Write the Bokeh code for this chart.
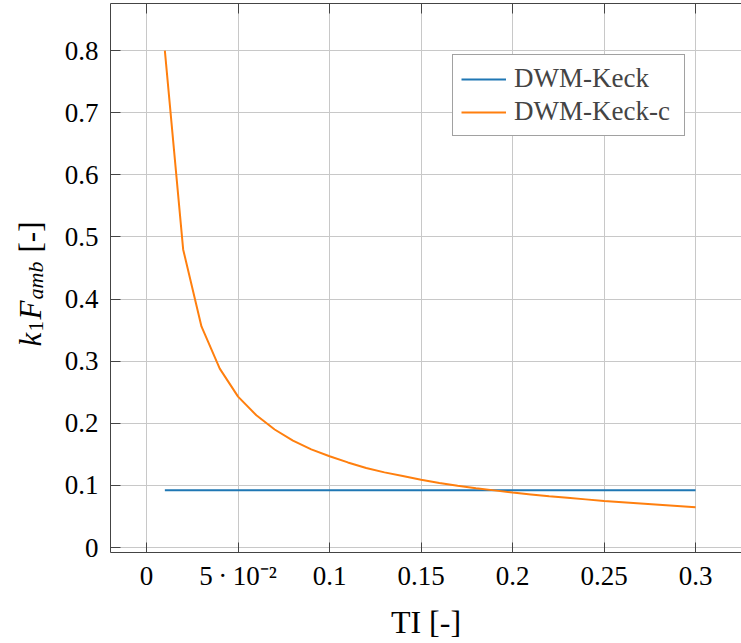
import math
from bokeh.plotting import figure
from bokeh.layouts import row
from bokeh.models import (Range1d, FixedTicker, Legend, LegendItem,
                          LinearAxis, ColumnDataSource)
from bokeh.core.properties import value
from bokeh.embed import file_html
from bokeh.resources import INLINE

# ---- data ----
ti = [0.01, 0.02, 0.03, 0.04, 0.05, 0.06, 0.07, 0.08, 0.09, 0.10,
      0.11, 0.12, 0.13, 0.14, 0.15, 0.16, 0.17, 0.18, 0.19, 0.20,
      0.21, 0.22, 0.23, 0.24, 0.25, 0.26, 0.27, 0.28, 0.29, 0.30]
dwm_keck = [0.092] * 30
dwm_keck_c = [0.800, 0.480, 0.356, 0.288, 0.243, 0.213, 0.190, 0.172, 0.158, 0.147,
              0.137, 0.128, 0.121, 0.115, 0.109, 0.104, 0.0995, 0.0955, 0.092, 0.0885,
              0.0855, 0.0825, 0.080, 0.0775, 0.075, 0.073, 0.071, 0.069, 0.067, 0.065]

x_ticks = [0, 0.05, 0.1, 0.15, 0.2, 0.25, 0.3]
x_tick_labels = ["0", "5\u2009·\u200910⁻²", "0.1", "0.15", "0.2", "0.25", "0.3"]
y_ticks = [0, 0.1, 0.2, 0.3, 0.4, 0.5, 0.6, 0.7, 0.8]
y_tick_labels = ["0", "0.1", "0.2", "0.3", "0.4", "0.5", "0.6", "0.7", "0.8"]

FONT = "Liberation Serif"
AX = "#444444"
GRID = "#c8c8c8"

LW = 60  # width of the strip holding the y-axis title

p = figure(frame_width=631, frame_height=549,
           x_range=Range1d(-0.0197, 0.3251), y_range=Range1d(-0.00805, 0.876),
           output_backend="svg", toolbar_location=None,
           min_border_left=110 - LW, min_border_right=0, min_border_top=3,
           min_border_bottom=10, x_axis_label="TI [-]")
p.outline_line_color = None

for ax in (p.xaxis[0], p.yaxis[0]):
    ax.axis_line_color = AX
    ax.major_tick_line_color = AX
    ax.major_tick_in = 10
    ax.major_tick_out = 0
    ax.minor_tick_line_color = None
    ax.major_label_text_font = FONT
    ax.major_label_text_font_size = "27px"
    ax.major_label_text_color = "black"
p.xaxis[0].major_label_standoff = 8
p.yaxis[0].major_label_standoff = 12

p.xaxis[0].ticker = FixedTicker(ticks=x_ticks)
p.xaxis[0].major_label_overrides = {t: l for t, l in zip(x_ticks, x_tick_labels)}
p.yaxis[0].ticker = FixedTicker(ticks=y_ticks)
p.yaxis[0].major_label_overrides = {t: l for t, l in zip(y_ticks, y_tick_labels)}

p.xaxis[0].axis_label_text_font = FONT
p.xaxis[0].axis_label_text_font_size = "32px"
p.xaxis[0].axis_label_text_font_style = "normal"
p.xaxis[0].axis_label_text_color = "black"
p.xaxis[0].axis_label_standoff = 10

# top axis (ticks only)
top = LinearAxis(ticker=FixedTicker(ticks=x_ticks), major_label_text_font_size="0px",
                 major_label_standoff=0, axis_line_color=AX, major_tick_line_color=AX,
                 major_tick_in=10, major_tick_out=0, minor_tick_line_color=None)
top.major_label_overrides = {t: "" for t in x_ticks}
p.add_layout(top, "above")

p.xgrid.ticker = FixedTicker(ticks=x_ticks)
p.ygrid.ticker = FixedTicker(ticks=y_ticks)
p.grid.grid_line_color = GRID
p.grid.grid_line_width = 1

r1 = p.line(ti, dwm_keck, line_color="#1f77b4", line_width=2)
r2 = p.line(ti, dwm_keck_c, line_color="#ff7f0e", line_width=2)

legend = Legend(items=[LegendItem(label="DWM-Keck", renderers=[r1]),
                       LegendItem(label="DWM-Keck-c", renderers=[r2])],
                location=(342, 416), label_text_font=FONT, label_text_font_size="27px",
                glyph_width=45, glyph_height=30, label_standoff=8, spacing=2,
                padding=8, margin=0, border_line_color=AX, border_line_width=1,
                background_fill_alpha=1.0, label_height=30, label_width=162)
p.add_layout(legend, "center")

# ---- strip with the y-axis title  k_1 F_amb [-] ----
LH = 600
lf = figure(frame_width=LW, frame_height=LH, x_range=Range1d(0, LW),
            y_range=Range1d(LH, 0), x_axis_type=None, y_axis_type=None,
            output_backend="svg", toolbar_location=None,
            min_border_left=0, min_border_right=0, min_border_top=0,
            min_border_bottom=0)
lf.outline_line_color = None
lf.grid.visible = False

title_text = ["k", "1", "F", "amb", "[-]"]
title_y = [343, 328, 316, 296, 249]
title_x = [30, 35, 30, 35, 30]
title_size = ["31px", "21px", "31px", "22px", "31px"]
title_style = ["italic", "normal", "italic", "italic", "normal"]
src = ColumnDataSource(dict(x=title_x, y=title_y, t=title_text,
                            s=title_size, st=title_style))
lf.text(x="x", y="y", text="t", source=src, angle=math.pi / 2,
        text_align="left", text_baseline="alphabetic",
        text_font=value(FONT), text_font_size="s", text_font_style="st",
        text_color="black")

layout = row(lf, p, spacing=0)
open("out.html", "w").write(file_html(layout, INLINE))
